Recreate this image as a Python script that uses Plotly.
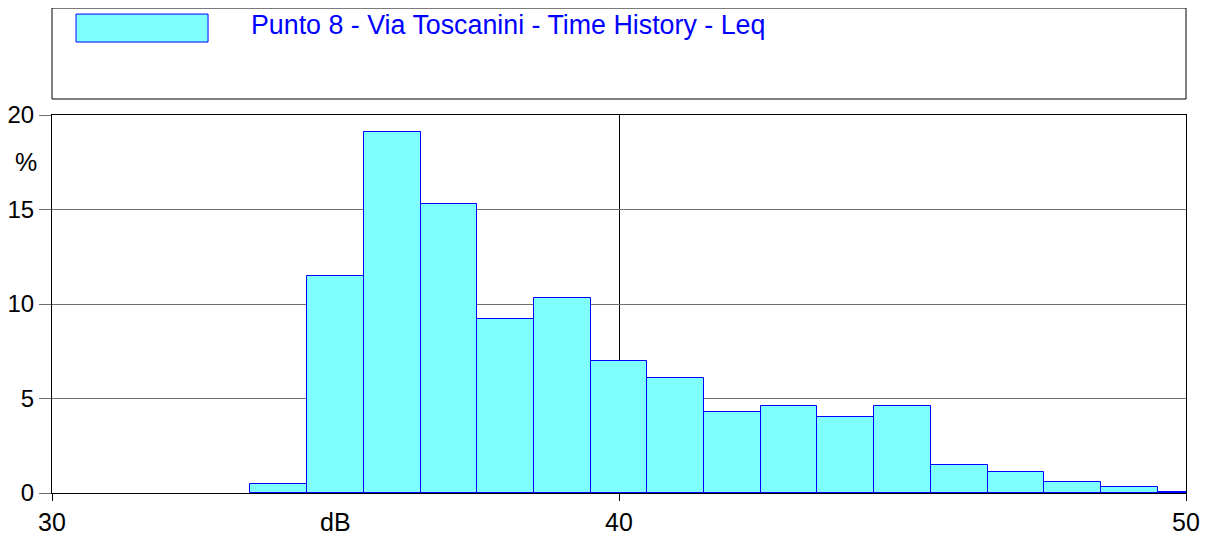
import plotly.graph_objects as go

# histogram of Leq levels, 1 dB classes
levels_db = [34, 35, 36, 37, 38, 39, 40, 41, 42, 43, 44, 45, 46, 47, 48, 49, 50]
percent = [0.5, 11.5, 19.1, 15.3, 9.2, 10.3, 7.0, 6.1, 4.3, 4.6, 4.0, 4.6,
           1.5, 1.1, 0.6, 0.3, 0.05]
series_name = "Punto 8 - Via Toscanini - Time History - Leq"
x_ticks = [30, 40, 50]
y_ticks = [0, 5, 10, 15, 20]

FONT = "Liberation Sans, Arial, sans-serif"
FILL = "#80FFFF"
EDGE = "#0000FF"

fig = go.Figure()
fig.add_trace(go.Bar(
    x=levels_db, y=percent, width=1,
    marker=dict(color=FILL, line=dict(color=EDGE, width=1)),
    name=series_name, showlegend=False, cliponaxis=True,
))

# legend frame, swatch and label
fig.add_shape(type="rect", xref="paper", yref="paper", x0=0, x1=1, y0=1.0423, y1=1.283,
              line=dict(color="black", width=1), fillcolor="white", layer="below")
fig.add_shape(type="rect", xref="paper", yref="paper", x0=0.0212, x1=0.1376, y0=1.193, y1=1.267,
              line=dict(color=EDGE, width=1), fillcolor=FILL)
fig.add_annotation(xref="paper", yref="paper", x=0.1735, y=1.238, xanchor="left", yanchor="middle",
                   text=series_name, showarrow=False, font=dict(family=FONT, size=26.8, color=EDGE))

# axis unit labels
fig.add_annotation(xref="x", yref="paper", x=35, y=0, yshift=-29, xanchor="center", yanchor="middle",
                   text="dB", showarrow=False, font=dict(family=FONT, size=25, color="black"))
fig.add_annotation(xref="paper", yref="y", x=0, xshift=-26, y=17.5, xanchor="center", yanchor="middle",
                   text="%", showarrow=False, font=dict(family=FONT, size=25, color="black"))

# page body adds an 8 px margin, so the figure is 8 px smaller and shifted
fig.update_layout(
    width=1201, height=530,
    margin=dict(l=44, r=23, t=107, b=45, autoexpand=False),
    plot_bgcolor="white", paper_bgcolor="white",
    font=dict(family=FONT, size=25, color="black"),
    bargap=0,
    xaxis=dict(range=[30, 50], tickvals=x_ticks, ticks="outside", ticklen=7, tickcolor="black",
               showgrid=True, gridcolor="black", gridwidth=1, automargin=False,
               showline=True, linecolor="black", mirror=True, zeroline=False),
    yaxis=dict(range=[0, 20], tickvals=y_ticks, ticks="outside", ticklen=12, tickcolor="#707070",
               tickfont=dict(size=24),
               showgrid=True, gridcolor="#707070", gridwidth=1, automargin=False,
               showline=True, linecolor="black", mirror=True, zeroline=False),
)

fig.write_html("out.html")
